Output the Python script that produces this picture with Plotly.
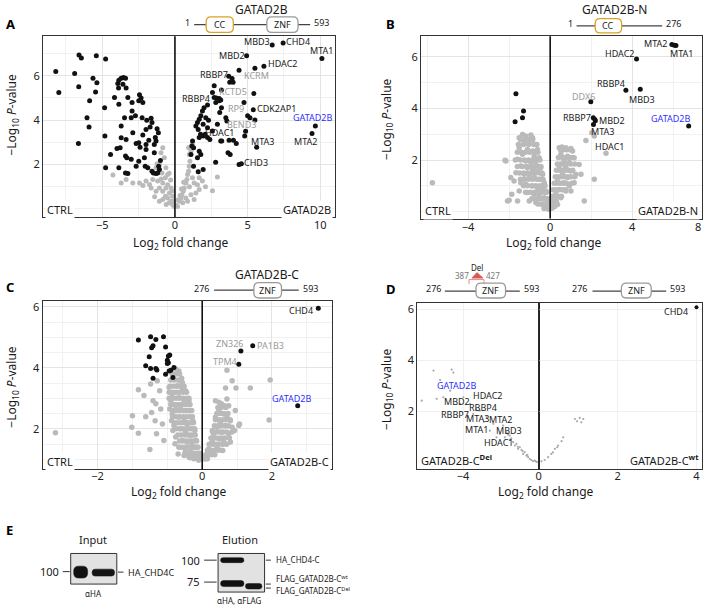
import plotly.graph_objects as go

W, H = 709, 607
FONT = "Noto Sans"

# ---------------- DATA ----------------
# Panel A (GATAD2B) significant points (log2FC, -log10 p)
a_sig = [(6.69,7.38),(7.44,7.47),(10.11,6.78),(4.93,6.90),(6.12,6.43),(5.5,6.33),(4.41,6.25),
 (3.7,5.98),(3.93,5.87),(3.77,5.7),(4.0,5.7),(5.43,5.2),(2.7,5.55),(3.2,5.35),(2.7,5.02),(2.86,5.0),
 (3.04,4.97),(3.15,4.9),(4.75,4.79),(3.2,4.56),(5.39,4.46),(5.0,4.2),(5.16,4.1),(5.5,4.0),(3.5,4.11),
 (3.57,3.96),(9.66,3.73),(9.43,3.4),(5.62,2.78),(4.86,3.5),(4.8,3.28),(4.41,2.0),(4.57,2.03),(2.8,2.1),
 (3.15,3.06),(3.65,2.53),(3.8,2.45),
 (1.21,3.06),(1.16,2.83),(1.28,2.75),(1.1,2.45),(1.28,1.92),(1.6,1.67),(1.94,1.77),(1.67,2.6),(1.55,2.3),
 (1.44,3.73),(1.55,3.89),(1.67,4.04),(1.78,4.19),(1.89,4.41),(2.0,4.56),(2.24,4.68),(1.6,3.58),(1.76,3.36),
 (1.67,3.21),(1.94,3.28),(2.12,4.11),(2.31,3.99),(2.24,3.66),(1.94,3.81),(2.4,3.13),(2.08,3.36),(2.24,3.21),
 (2.58,3.51),(2.92,3.81),(3.08,4.34),(2.81,4.79),(3.04,4.87),(2.58,5.24),(3.22,3.06),(3.72,3.09),(4.02,3.09),
 (4.22,2.94),(1.78,2.45),
 (-8.2,6.19),(-7.99,5.24),(-6.6,6.93),(-6.44,6.8),(-5.41,6.9),(-4.77,6.75),(-6.9,6.1),(-6.62,5.5),(-5.64,5.88),
 (-5.37,5.68),(-5.46,5.27),(-5.87,4.87),(-4.84,4.56),(-6.05,4.11),(-5.91,3.69),(-6.64,2.94),(-4.82,3.28),
 (-4.77,1.85),(-4.43,2.45),(-3.86,1.85),(-3.86,5.8),(-3.7,5.89),(-3.54,5.92),(-3.4,5.89),(-3.93,5.65),
 (-3.58,5.62),(-3.36,5.44),(-3.88,5.44),(-4.16,5.02),(-3.86,4.71),(-3.24,5.02),(-2.95,4.79),(-3.47,4.11),
 (-3.01,4.11),(-3.7,3.73),(-2.9,3.43),(-3.36,3.13),(-3.7,3.2),(-3.99,2.72),(-3.77,2.75),(-3.4,2.38),
 (-3.31,2.3),(-3.01,2.23),(-3.24,1.59),(-3.4,1.62),(-2.44,5.14),(-2.33,4.99),(-2.49,4.87),(-2.21,4.79),
 (-2.95,4.41),(-2.72,4.19),(-2.26,4.11),(-1.94,3.99),(-1.64,4.08),(-1.58,3.89),(-1.71,3.69),(-1.99,3.58),
 (-2.21,3.33),(-2.49,2.98),(-2.67,2.94),(-2.4,2.78),(-1.99,2.9),(-1.8,3.09),(-1.42,2.9),(-1.23,3.61),
 (-1.14,3.43),(-1.35,3.21),(-1.3,3.06),(-1.42,2.53),(-1.99,2.68),(-2.1,2.3),(-2.49,2.15),(-2.67,1.92),
 (-2.05,1.92),(-1.87,1.85),(-1.58,1.7),(-1.48,1.62),(-1.3,1.59),(-1.19,1.62),(-1.07,1.77),(-1.12,1.92),
 (-1.0,2.18)]
a_ns = [(-0.84,2.75),(-0.96,2.53),(-0.73,2.3),(-1.07,2.0),(-0.62,1.85),(-0.5,1.55),(-0.66,1.4),(-0.84,1.17),
 (-1.19,1.25),(-1.53,1.32),(-1.99,1.25),(-2.44,1.17),(-2.9,1.17),(-3.36,1.32),(-4.27,1.52),(-3.7,1.17),
 (-1.07,0.94),(-0.62,0.94),(-0.39,0.72),(-0.66,0.57),(-0.5,0.49),(-0.27,0.34),(-0.16,0.19),(-0.05,0.11),
 (0.07,0.16),(-0.39,0.27),(-0.84,0.42),(-1.07,0.34),(-1.3,0.79),(-1.64,0.94),(-0.84,0.79),(-0.5,1.09),
 (-0.27,0.94),(-0.16,0.57),(-0.89,1.62),(-1.3,1.85),(-1.23,2.03),(-0.3,1.3),(-0.2,0.8),(-0.6,0.2),
 (-1.4,0.55),(-0.95,1.35),(-0.4,1.6),(-1.75,1.1),(-2.2,1.05),(-0.12,0.35),
 (0.3,0.34),(0.41,0.49),(0.48,0.64),(0.57,0.79),(0.64,0.94),(0.75,1.17),(0.82,1.32),(0.87,1.55),(0.94,1.7),
 (0.98,1.92),(1.03,2.15),(0.98,2.45),(1.1,2.6),(0.94,2.75),(1.21,2.9),(1.32,1.17),(1.55,1.09),(1.67,0.87),
 (1.44,0.72),(1.1,0.64),(0.75,0.49),(2.58,0.82),(2.92,1.43),(1.67,1.4),(1.89,1.25),(0.53,0.27),(0.87,0.34),
 (1.32,0.42),(0.18,0.11),(0.35,0.6),(0.6,1.2),(1.0,1.0),(1.2,1.4),(0.2,0.4),(0.45,0.9),(2.1,1.0)]
a_labels = [("MBD3",5.66,7.55,"k"),("CHD4",8.47,7.55,"k"),("MTA1",10.07,7.13,"k"),("MBD2",3.9,6.9,"k"),
 ("HDAC2",7.42,6.55,"k"),("RBBP7",2.69,6.07,"k"),("KCRM",5.62,6.0,"g"),("KCTD5",4.01,5.28,"g"),
 ("RBBP4",1.48,4.99,"k"),("RP9",4.22,4.53,"g"),("CDK2AP1",6.96,4.53,"k"),("BEND3",4.56,3.78,"g"),
 ("GATAD2B",9.49,4.11,"b"),("HDAC1",3.08,3.43,"k"),("MTA3",6.05,3.02,"k"),("MTA2",8.97,3.02,"k"),
 ("CHD3",5.59,2.1,"k")]

# Panel B (GATAD2B-N)
b_sig = [(5.93,6.48),(6.05,6.45),(6.13,6.44),(4.21,5.92),(3.69,4.7),(4.39,4.74),(1.98,4.26),(2.1,3.64),
 (2.18,3.57),(2.2,3.52),(2.11,3.38),(6.75,3.32),(-1.67,4.57),(-1.3,3.9),(-1.35,3.64),(-1.71,3.48)]
b_ns = [(-1.35,2.99),(-1.19,2.93),(-0.94,2.97),(-0.86,2.86),(-1.02,2.74),(-1.27,2.67),(-0.78,2.61),
 (-1.51,2.48),(-1.11,2.41),(-0.86,2.35),(-1.35,2.22),(-0.78,2.15),(-1.59,2.03),(-1.19,1.96),(-0.94,1.9),
 (-0.7,1.83),(-1.43,1.77),(-1.11,1.7),(-0.86,1.64),(-0.62,1.57),(-1.67,1.51),(-1.27,1.45),(-1.02,1.38),
 (-0.78,1.32),(-0.54,1.25),(-1.76,1.19),(-1.43,1.12),(-1.19,1.06),(-0.86,0.99),(-0.62,0.93),(-0.37,0.86),
 (-1.51,0.8),(-1.11,0.74),(-0.78,0.67),(-0.54,0.61),(-0.29,0.54),(-1.87,0.67),(-2.08,0.41),(-1.59,0.41),
 (-1.02,0.41),(-0.7,0.35),(-0.37,0.28),(-0.13,0.22),(-0.05,0.09),(-2.16,1.96),(-1.92,1.32),(-1.51,2.86),
 (-0.62,2.41),(-0.54,2.09),(-0.46,1.7),(-0.37,1.45),(-0.29,1.12),(-0.21,0.8),(-0.13,0.48),(-0.05,0.35),
 (0.44,2.48),(0.57,2.5),(0.76,2.48),(1.01,2.45),(1.09,2.35),(0.52,2.22),(0.85,2.15),(0.68,1.96),(0.93,1.9),
 (1.17,2.09),(0.44,1.77),(0.76,1.7),(1.01,1.57),(0.6,1.45),(0.85,1.32),(1.25,1.45),(0.36,1.19),(0.68,1.12),
 (0.93,0.99),(0.44,0.86),(0.76,0.8),(0.28,0.67),(0.52,0.54),(0.2,0.41),(0.36,0.28),(0.11,0.15),(1.41,1.83),
 (1.17,1.12),(1.01,0.8),(1.5,1.45),(1.66,0.41),(2.15,1.25),(1.74,2.76),(2.03,3.06),(2.15,2.93),(2.72,2.26),
 (-5.74,1.12),(-2.2,1.99),(-2.0,0.44)]
# additional points of the dense grey cloud in B, read row by row: (-log10 p, [log2FC ...])
b_ns_rows = [(2.8, [-1.45,-1.25,-1.0,-0.85]), (2.6, [-1.55,-1.3,-1.05,-0.8,-0.65]),
 (2.3, [-1.6,-1.4,-1.2,-1.0,-0.75,-0.6]), (2.0, [-1.7,-1.45,-1.25,-1.05,-0.85,-0.65,-0.5]),
 (1.75, [-1.6,-1.35,-1.15,-0.95,-0.75,-0.55,-0.45]), (1.5, [-1.5,-1.3,-1.1,-0.9,-0.7,-0.5,-0.4]),
 (1.25, [-1.45,-1.25,-1.05,-0.85,-0.65,-0.45,-0.35]), (1.0, [-1.3,-1.1,-0.9,-0.7,-0.5,-0.35,-0.25]),
 (0.75, [-1.2,-0.95,-0.75,-0.55,-0.4,-0.25,-0.18]), (0.5, [-0.9,-0.7,-0.5,-0.35,-0.22,-0.12]),
 (0.3, [-0.6,-0.45,-0.3,-0.18,-0.08]), (0.12, [-0.3,-0.15,-0.02,0.05]),
 (2.4, [0.5,0.65,0.8,0.95]), (2.1, [0.4,0.6,0.75,0.9,1.05]), (1.85, [0.35,0.5,0.65,0.8,1.0,1.2]),
 (1.6, [0.3,0.45,0.6,0.75,0.9,1.1]), (1.35, [0.25,0.4,0.55,0.7,0.85,1.0,1.2]),
 (1.1, [0.2,0.35,0.5,0.65,0.8,1.05]), (0.85, [0.15,0.3,0.45,0.6,0.75]), (0.6, [0.12,0.25,0.38,0.55]),
 (0.4, [0.08,0.18,0.3]), (0.2, [0.04,0.12,0.22])]
b_labels = [("MTA2",5.14,6.51,"k"),("MTA1",6.4,6.14,"k"),("HDAC2",3.36,6.14,"k"),("RBBP4",2.95,4.97,"k"),
 ("MBD3",4.49,4.35,"k"),("DDX6",1.63,4.48,"g"),("RBBP7",1.33,3.64,"k"),("MBD2",3.0,3.55,"k"),
 ("MTA3",2.55,3.09,"k"),("GATAD2B",5.91,3.6,"b"),("HDAC1",2.87,2.52,"k")]

# Panel C (GATAD2B-C)
c_sig = [(3.33,5.95),(1.45,4.72),(1.11,4.55),(1.05,4.12),(2.74,2.76),
 (-1.83,4.91),(-1.48,5.02),(-1.33,4.93),(-1.11,5.02),(-1.41,4.72),(-1.45,4.66),(-1.05,4.68),(-1.52,4.36),
 (-0.93,4.42),(-1.0,4.25),(-0.97,4.17),(-1.62,4.07),(-1.48,3.98),(-1.33,3.98),(-1.3,3.93),(-0.95,3.9),
 (-0.9,3.92),(-0.81,4.01),(-1.05,3.79),(-1.41,3.66),(-0.84,3.68),(-0.97,4.39),(-1.0,4.14)]
c_ns = [(-4.21,1.87),(-1.83,3.28),(-2.0,2.43),(-2.02,2.05),(-1.83,1.86),(-1.67,3.09),(-1.62,2.4),(-1.5,1.32),
 (-1.48,3.47),(-1.41,2.92),(-1.45,2.54),(-1.33,2.82),(-1.35,2.27),(-1.31,1.84),(-1.22,3.25),(-1.19,2.65),
 (-1.14,2.16),(-1.1,1.62),(-1.29,3.58),
 (-0.86,3.79),(-0.76,3.96),(-0.67,3.9),(-0.62,3.58),(-0.71,3.41),(-0.57,3.25),(-0.86,3.14),(-0.67,3.03),
 (-0.52,2.92),(-0.76,2.76),(-0.62,2.65),(-0.48,2.6),(-0.86,2.49),(-0.67,2.38),(-0.52,2.27),(-0.43,2.16),
 (-0.81,2.11),(-0.62,2.0),(-0.48,1.89),(-0.33,1.78),(-0.76,1.73),(-0.57,1.62),(-0.43,1.57),(-0.29,1.46),
 (-0.67,1.4),(-0.48,1.29),(-0.33,1.24),(-0.19,1.18),(-0.52,1.13),(-0.38,1.08),(-0.24,1.02),(-0.1,0.97),
 (-0.95,3.36),(-0.9,2.92),(-0.93,2.65),(-0.88,2.27),(-0.84,1.95),(-0.78,1.51),(-0.69,1.18),(-0.57,3.52),
 (-0.48,3.25),(-0.59,3.66),(-0.38,2.92),(-0.33,2.6),(-0.27,2.27),(-0.21,1.95),(-0.17,1.62),(-0.14,1.4),
 (-0.11,1.18),(-0.05,1.08),
 (0.38,2.92),(0.48,2.87),(0.55,2.82),(0.65,2.76),(0.71,2.98),(0.76,2.76),(0.48,2.6),(0.62,2.49),(0.71,2.38),
 (0.81,2.27),(0.38,2.38),(0.52,2.22),(0.67,2.11),(0.86,2.05),(0.43,2.05),(0.57,1.89),(0.76,1.84),(0.93,1.95),
 (1.05,2.11),(0.33,1.84),(0.48,1.67),(0.62,1.57),(0.81,1.57),(0.29,1.57),(0.43,1.4),(0.59,1.29),(0.19,1.35),
 (0.33,1.18),(0.14,1.13),(0.1,1.02),(0.05,1.08),(0.86,3.58),(0.71,3.92),(0.97,3.34),(0.67,3.34),(1.38,3.34),
 (1.95,3.6),(1.92,2.29),(0.95,2.6),(1.07,2.16),(0.29,1.95)]
# additional points of the dense grey cloud in C, read row by row
c_ns_rows = [(3.8, [-0.85,-0.75,-0.65]), (3.6, [-0.9,-0.8,-0.7,-0.6]), (3.4, [-0.92,-0.82,-0.72,-0.62,-0.52]),
 (3.2, [-0.95,-0.85,-0.75,-0.65,-0.55,-0.45]), (3.0, [-0.95,-0.85,-0.75,-0.65,-0.55,-0.45,-0.38]),
 (2.8, [-0.9,-0.8,-0.7,-0.6,-0.5,-0.42,-0.35]), (2.6, [-0.85,-0.75,-0.65,-0.55,-0.45,-0.38,-0.3]),
 (2.4, [-0.85,-0.75,-0.65,-0.55,-0.45,-0.36,-0.28]), (2.2, [-0.8,-0.7,-0.6,-0.5,-0.4,-0.32,-0.25]),
 (2.0, [-0.75,-0.65,-0.55,-0.45,-0.37,-0.3,-0.22]), (1.8, [-0.7,-0.6,-0.5,-0.42,-0.34,-0.26,-0.2]),
 (1.6, [-0.65,-0.55,-0.46,-0.38,-0.3,-0.23,-0.16]), (1.4, [-0.6,-0.5,-0.42,-0.34,-0.26,-0.19,-0.12]),
 (1.2, [-0.5,-0.42,-0.34,-0.26,-0.19,-0.12,-0.07]), (1.05, [-0.35,-0.27,-0.2,-0.14,-0.08,-0.03]),
 (2.7, [0.45,0.55,0.68]), (2.5, [0.42,0.52,0.62,0.74]), (2.3, [0.38,0.48,0.58,0.68,0.8]),
 (2.1, [0.35,0.45,0.55,0.65,0.75]), (1.9, [0.3,0.4,0.5,0.6,0.7,0.85]), (1.7, [0.25,0.35,0.45,0.55,0.65,0.78]),
 (1.5, [0.2,0.3,0.4,0.5,0.6,0.7]), (1.3, [0.15,0.25,0.35,0.45,0.55]), (1.15, [0.1,0.18,0.27,0.36]),
 (1.02, [0.03,0.08,0.15])]
c_labels = [("CHD4",2.84,5.89,"k"),("ZN326",0.79,4.79,"g"),("PA1B3",1.97,4.74,"g"),("TPM4",0.65,4.2,"g"),
 ("GATAD2B",2.59,3.01,"b")]

# Panel D (GATAD2B-C Del vs wt): left half (Del enriched), right half (wt enriched)
d_left = [(-5.56,3.61),(-4.6,3.65),(-4.51,3.53),(-5.21,3.24),(-6.18,2.43),(-5.39,2.5),(-5.04,2.56),
 (-4.68,2.82),(-3.98,2.56),(-3.63,2.3),(-3.11,2.04),(-2.75,1.78),(-2.4,1.52),(-1.88,1.45),(-2.05,1.12),
 (-1.7,1.19),(-1.53,1.06),(-1.79,0.99),(-1.53,0.89),(-1.35,0.8),(-1.18,0.73),(-1.0,0.6),(-0.91,0.5),
 (-0.74,0.41),(-0.65,0.27),(-0.47,0.14),(-0.3,0.06),(-0.16,0.05),(-0.09,0.02),(-1.26,0.67),(-1.09,0.54),
 (-0.82,0.34),(-0.56,0.21),(-0.39,0.1),(-0.21,0.08),(-4.16,2.3),(-3.46,1.91),(-2.58,1.25),(-2.23,0.99),
 (-1.45,0.95),(-1.1,0.62),(-0.85,0.45),(-0.6,0.3),(-1.62,1.1),(-2.9,1.6),(-3.3,2.1)]
d_right_ns = [(0.92,1.71),(1.04,1.75),(1.13,1.71),(0.97,1.62),(1.08,1.58),(0.07,0.05),(0.15,0.1),(0.24,0.21),
 (0.32,0.34),(0.41,0.54),(0.49,0.67),(0.58,0.84),(0.62,0.99),(0.36,0.4),(0.47,0.6)]
d_right_sig = [(4.0,6.09)]
d_labels = [("GATAD2B",-4.3,3.02,"b"),("HDAC2",-2.68,2.64,"k"),("MBD2",-4.3,2.4,"k"),("RBBP4",-2.95,2.17,"k"),
 ("RBBP7",-4.44,1.88,"k"),("MTA3",-3.21,1.71,"k"),("MTA2",-2.04,1.69,"k"),("MTA1",-3.3,1.28,"k"),
 ("MBD3",-1.55,1.27,"k"),("HDAC1",-2.1,0.8,"k")]

b_ns_all = b_ns + [(x, y) for y, xs in b_ns_rows for x in xs]
c_ns_all = c_ns + [(x, y) for y, xs in c_ns_rows for x in xs]

# ---------------- helpers ----------------
def X(px): return px / W
def Y(py): return 1 - py / H
def dom_x(a, b): return [a / W, b / W]
def dom_y(top, bot): return [1 - bot / H, 1 - top / H]

LABEL_COL = {"k": "#1a1a1a", "g": "#9a9a9a", "b": "#2f2fff"}
SIG, NS = "#111111", "#bababa"

fig = go.Figure()

def pts(p, xa, ya, color, size):
    xs = [q[0] for q in p]; ys = [q[1] for q in p]
    fig.add_trace(go.Scatter(x=xs, y=ys, mode="markers", xaxis=xa, yaxis=ya,
                             marker=dict(color=color, size=size, line=dict(width=0)),
                             hoverinfo="skip", showlegend=False))

pts(a_ns, "x", "y", NS, 5); pts(a_sig, "x", "y", SIG, 5)
pts(b_ns_all, "x2", "y2", NS, 5.5); pts(b_sig, "x2", "y2", SIG, 5)
pts(c_ns_all, "x3", "y3", NS, 5.5); pts(c_sig, "x3", "y3", SIG, 5)
pts(d_left, "x4", "y4", "#a9a9a9", 2.2)
pts(d_right_ns, "x5", "y5", "#a9a9a9", 2.2); pts(d_right_sig, "x5", "y5", SIG, 4)

def xaxis(dom, rng, tickvals, ticktext=None, minor=None, grid="#e4e4e4", anchor="y", standoff=-2):
    d = dict(domain=dom, range=rng, anchor=anchor, showline=True, mirror=True, linecolor="#333",
             linewidth=1, ticks="", tickvals=tickvals, ticklabelstandoff=standoff,
             showgrid=True, gridcolor=grid, gridwidth=1, zeroline=False,
             tickfont=dict(size=11, color="#222", family=FONT), fixedrange=True)
    if ticktext: d["ticktext"] = ticktext
    if minor: d["minor"] = dict(dtick=minor, tick0=0, showgrid=True, gridcolor="#f1f1f1", gridwidth=1)
    return d

def yaxis(dom, rng, tickvals, minor=None, anchor="x", grid="#e4e4e4", labels=True):
    d = dict(domain=dom, range=rng, anchor=anchor, showline=True, mirror=True, linecolor="#333",
             linewidth=1, ticks="", tickvals=tickvals, showticklabels=labels, showgrid=True, gridcolor=grid,
             zeroline=False, tickfont=dict(size=11, color="#222", family=FONT), fixedrange=True)
    if minor: d["minor"] = dict(dtick=minor, tick0=0, showgrid=True, gridcolor="#f1f1f1", gridwidth=1)
    return d

fig.update_layout(
    width=W, height=H, margin=dict(l=0, r=0, t=0, b=0),
    paper_bgcolor="white", plot_bgcolor="white", showlegend=False,
    font=dict(family=FONT, color="#222"),
    xaxis=xaxis(dom_x(43.3, 336.7), [-9.07, 11.03], [-5, 0, 5, 10], minor=2.5, anchor="y"),
    yaxis=yaxis(dom_y(34.3, 216), [-0.38, 7.78], [2, 4, 6], minor=1, anchor="x"),
    xaxis2=xaxis(dom_x(422.7, 705), [-6.3, 7.4], [-4, 0, 4], minor=2, anchor="y2"),
    yaxis2=yaxis(dom_y(34.3, 217.3), [-0.27, 6.8], [2, 4, 6], minor=1, anchor="x2"),
    xaxis3=xaxis(dom_x(42.7, 333.3), [-4.58, 3.72], [-3, 0, 2], ["\u22122", "0", "2"], minor=1, anchor="y3",
                 standoff=-4),
    yaxis3=yaxis(dom_y(300, 469), [0.67, 6.19], [2, 4, 6], minor=0.5, anchor="x3"),
    xaxis4=xaxis(dom_x(419, 541), [-6.42, 0], [-4, 0], grid="#f0f0f0", anchor="y4", standoff=-4),
    yaxis4=yaxis(dom_y(302, 469), [-0.27, 6.26], [2, 4, 6], anchor="x4", grid="#f0f0f0"),
    xaxis5=xaxis(dom_x(541, 705), [0, 4.14], [2, 4], grid="#f0f0f0", anchor="y5", standoff=-4),
    yaxis5=yaxis(dom_y(302, 469), [-0.27, 6.26], [2, 4, 6], anchor="x5", grid="#f0f0f0", labels=False),
)

shapes = []
annots = []

def A(text, x, y, size=9, color="#1a1a1a", xa="center", ya="middle", xref="paper", yref="paper", **kw):
    annots.append(dict(text=text, x=x, y=y, xref=xref, yref=yref, showarrow=False, xanchor=xa, yanchor=ya,
                       font=dict(size=size, color=color, family=FONT), **kw))

def AP(text, px, py, **kw):
    A(text, X(px), Y(py), **kw)

# zero lines
for xr, yr in (("x", "y"), ("x2", "y2"), ("x3", "y3")):
    shapes.append(dict(type="line", xref=xr, yref=yr + " domain", x0=0, x1=0, y0=0, y1=1,
                       line=dict(color="#111", width=1.6)))
shapes.append(dict(type="line", xref="x5", yref="y5 domain", x0=0, x1=0, y0=0, y1=1,
                   line=dict(color="#111", width=1.6)))

# labels in plots
for lab, xr, yr in ((a_labels, "x", "y"), (b_labels, "x2", "y2"), (c_labels, "x3", "y3"), (d_labels, "x4", "y4")):
    for t, x, y, c in lab:
        A(t, x, y, size=9, color=LABEL_COL[c], xref=xr, yref=yr)
A("CHD4", 3.48, 5.93, size=9, xref="x5", yref="y5")

# corner texts
AP("CTRL", 45, 208.5, size=11, xa="left", bgcolor="white")
AP("GATAD2B", 334, 208.5, size=11, xa="right", bgcolor="white")
AP("CTRL", 425, 209, size=11, xa="left", bgcolor="white")
AP("GATAD2B-N", 703, 209, size=11, xa="right", bgcolor="white")
AP("CTRL", 45, 461.5, size=11, xa="left", bgcolor="white")
AP("GATAD2B-C", 332, 461.5, size=11, xa="right", bgcolor="white")
AP("GATAD2B-C<sup><b>Del</b></sup>", 421, 460, size=11, xa="left")
AP("GATAD2B-C<sup><b>wt</b></sup>", 704, 460, size=11, xa="right")

# "8" tick label of panel B
A("8", 7.2, Y(225.5), size=11, color="#222", xref="x2", yref="paper")

# axis titles
YT = "\u2212Log<sub>10</sub> <i>P</i>-value"
XT = "Log<sub>2</sub> fold change"
AP(YT, 12, 113, size=12, textangle=-90)
AP(YT, 388, 117, size=12, textangle=-90)
AP(YT, 12, 386, size=12, textangle=-90)
AP(YT, 388, 388, size=12, textangle=-90)
AP(XT, 182, 242, size=12)
AP(XT, 556, 242, size=12)
AP(XT, 180, 492, size=12)
AP(XT, 548, 492, size=12)

# panel letters
for t, px, py in (("A", 4, 22), ("B", 386, 22), ("C", 4, 286), ("D", 386, 288), ("E", 4, 530)):
    AP("<b>" + t + "</b>", px, py, size=13, color="#000", xa="left")

# ---------- domain diagrams ----------
def line(x0, y0, x1, y1, color="#444", width=1.2):
    shapes.append(dict(type="line", xref="paper", yref="paper", x0=X(x0), y0=Y(y0), x1=X(x1), y1=Y(y1),
                       line=dict(color=color, width=width)))

def P(x, y): return f"{X(x):.5f},{Y(y):.5f}"

def rrect(x0, y0, x1, y1, r, line_col, fill="white", lw=1.3):
    p = (f"M{P(x0+r,y0)} L{P(x1-r,y0)} Q{P(x1,y0)} {P(x1,y0+r)} L{P(x1,y1-r)} Q{P(x1,y1)} {P(x1-r,y1)} "
         f"L{P(x0+r,y1)} Q{P(x0,y1)} {P(x0,y1-r)} L{P(x0,y0+r)} Q{P(x0,y0)} {P(x0+r,y0)} Z")
    shapes.append(dict(type="path", xref="paper", yref="paper", path=p, fillcolor=fill,
                       line=dict(color=line_col, width=lw)))

CC_COL = "#D9A227"
ZNF_COL = "#9a9a9a"

# A: full-length
AP("GATAD2B", 263, 8, size=12)
line(195, 22.7, 311.5, 22.7)
AP("1", 193, 21, size=9, xa="right")
AP("593", 313, 21, size=9, xa="left")
rrect(207, 15, 234.3, 30.5, 5, CC_COL)
AP("CC", 220.6, 22.7, size=9)
rrect(268, 15, 299.3, 30.5, 5, ZNF_COL)
AP("ZNF", 283.6, 22.7, size=9)

# B: N-terminal
AP("GATAD2B-N", 617, 8, size=12)
line(579, 24, 665, 24)
AP("1", 577, 22, size=9, xa="right")
AP("276", 667, 22, size=9, xa="left")
rrect(597.7, 16.7, 624.3, 31, 5, CC_COL)
AP("CC", 611, 24, size=9)

# C: C-terminal
AP("GATAD2B-C", 268, 273, size=12)
line(215, 289, 300, 289)
AP("276", 212, 287, size=9, xa="right")
AP("593", 302, 287, size=9, xa="left")
rrect(255, 281.5, 282.7, 297, 5, ZNF_COL)
AP("ZNF", 268.8, 289.3, size=9)

# D: deletion construct and wt
line(446.7, 290, 522, 290)
AP("276", 445, 287, size=9, xa="right")
AP("593", 524, 287, size=9, xa="left")
rrect(478, 282, 507.7, 297, 5, ZNF_COL)
AP("ZNF", 492.8, 289.5, size=9)
shapes.append(dict(type="path", xref="paper", yref="paper",
                   path=f"M{P(474,277)} L{P(479,271.5)} L{P(485,277)} Z", fillcolor="#d65a4f",
                   line=dict(color="#d65a4f", width=0.8)))
line(471, 278.5, 486, 278.5, color="#e58a94", width=1)
line(471, 278.5, 471, 283, color="#e58a94", width=1)
line(486, 278.5, 486, 283, color="#e58a94", width=1)
AP("Del", 479, 266.5, size=8)
AP("387", 472.5, 274.5, size=8, color="#777", xa="right")
AP("427", 486, 274.5, size=8, color="#777", xa="left")

line(595, 290, 669, 290)
AP("276", 592, 287, size=9, xa="right")
AP("593", 671, 287, size=9, xa="left")
rrect(624, 282, 654, 297, 5, ZNF_COL)
AP("ZNF", 639, 289.5, size=9)

# ---------- panel E: western blots ----------
def rect(x0, y0, x1, y1, fill, lc="#333", lw=1):
    shapes.append(dict(type="rect", xref="paper", yref="paper", x0=X(x0), y0=Y(y0), x1=X(x1), y1=Y(y1),
                       fillcolor=fill, line=dict(color=lc, width=lw)))

# Input blot
AP("Input", 93.3, 539, size=11)
rect(71, 553.3, 117.3, 584, "#e2e2e2")
rrect(74, 566, 88, 578, 5, "#111", fill="#111", lw=0.5)
rrect(92.5, 569, 115, 576, 3, "#151515", fill="#151515", lw=0.5)
line(63, 571.5, 70, 571.5, color="#333", width=1)
AP("100", 61, 571.5, size=11, xa="right")
line(118.5, 572, 124, 572, color="#333", width=1)
AP("HA_CHD4C", 127, 572, size=9, xa="left")
AP("\u03b1HA", 94.3, 593.5, size=8)

# Elution blot
AP("Elution", 241, 539, size=11)
rect(219, 553.3, 265.7, 592, "#e2e2e2")
rrect(221.5, 557.5, 245, 562.5, 2.5, "#111", fill="#111", lw=0.5)
rrect(221.5, 580.5, 245, 586.5, 3, "#111", fill="#111", lw=0.5)
rrect(246.5, 583.5, 263, 589, 2.5, "#151515", fill="#151515", lw=0.5)
line(205, 560, 217.5, 560, color="#333", width=1)
AP("100", 203, 560, size=11, xa="right")
line(205, 582, 217.5, 582, color="#333", width=1)
AP("75", 203, 581, size=11, xa="right")
line(267, 560, 272, 560, color="#333", width=1)
line(267, 584, 272, 584, color="#333", width=1)
line(267, 588, 272, 588, color="#333", width=1)
AP("HA_CHD4-C", 275, 559.5, size=8, xa="left")
AP("FLAG_GATAD2B-C<sup>wt</sup>", 275, 578, size=8, xa="left")
AP("FLAG_GATAD2B-C<sup>Del</sup>", 275, 590.5, size=8, xa="left")
AP("\u03b1HA, \u03b1FLAG", 241, 600.5, size=8)

fig.update_layout(shapes=shapes, annotations=annots)
fig.write_html("out.html", config={"displayModeBar": False},
               post_script="document.body.style.margin='0';document.body.style.overflow='hidden';")
